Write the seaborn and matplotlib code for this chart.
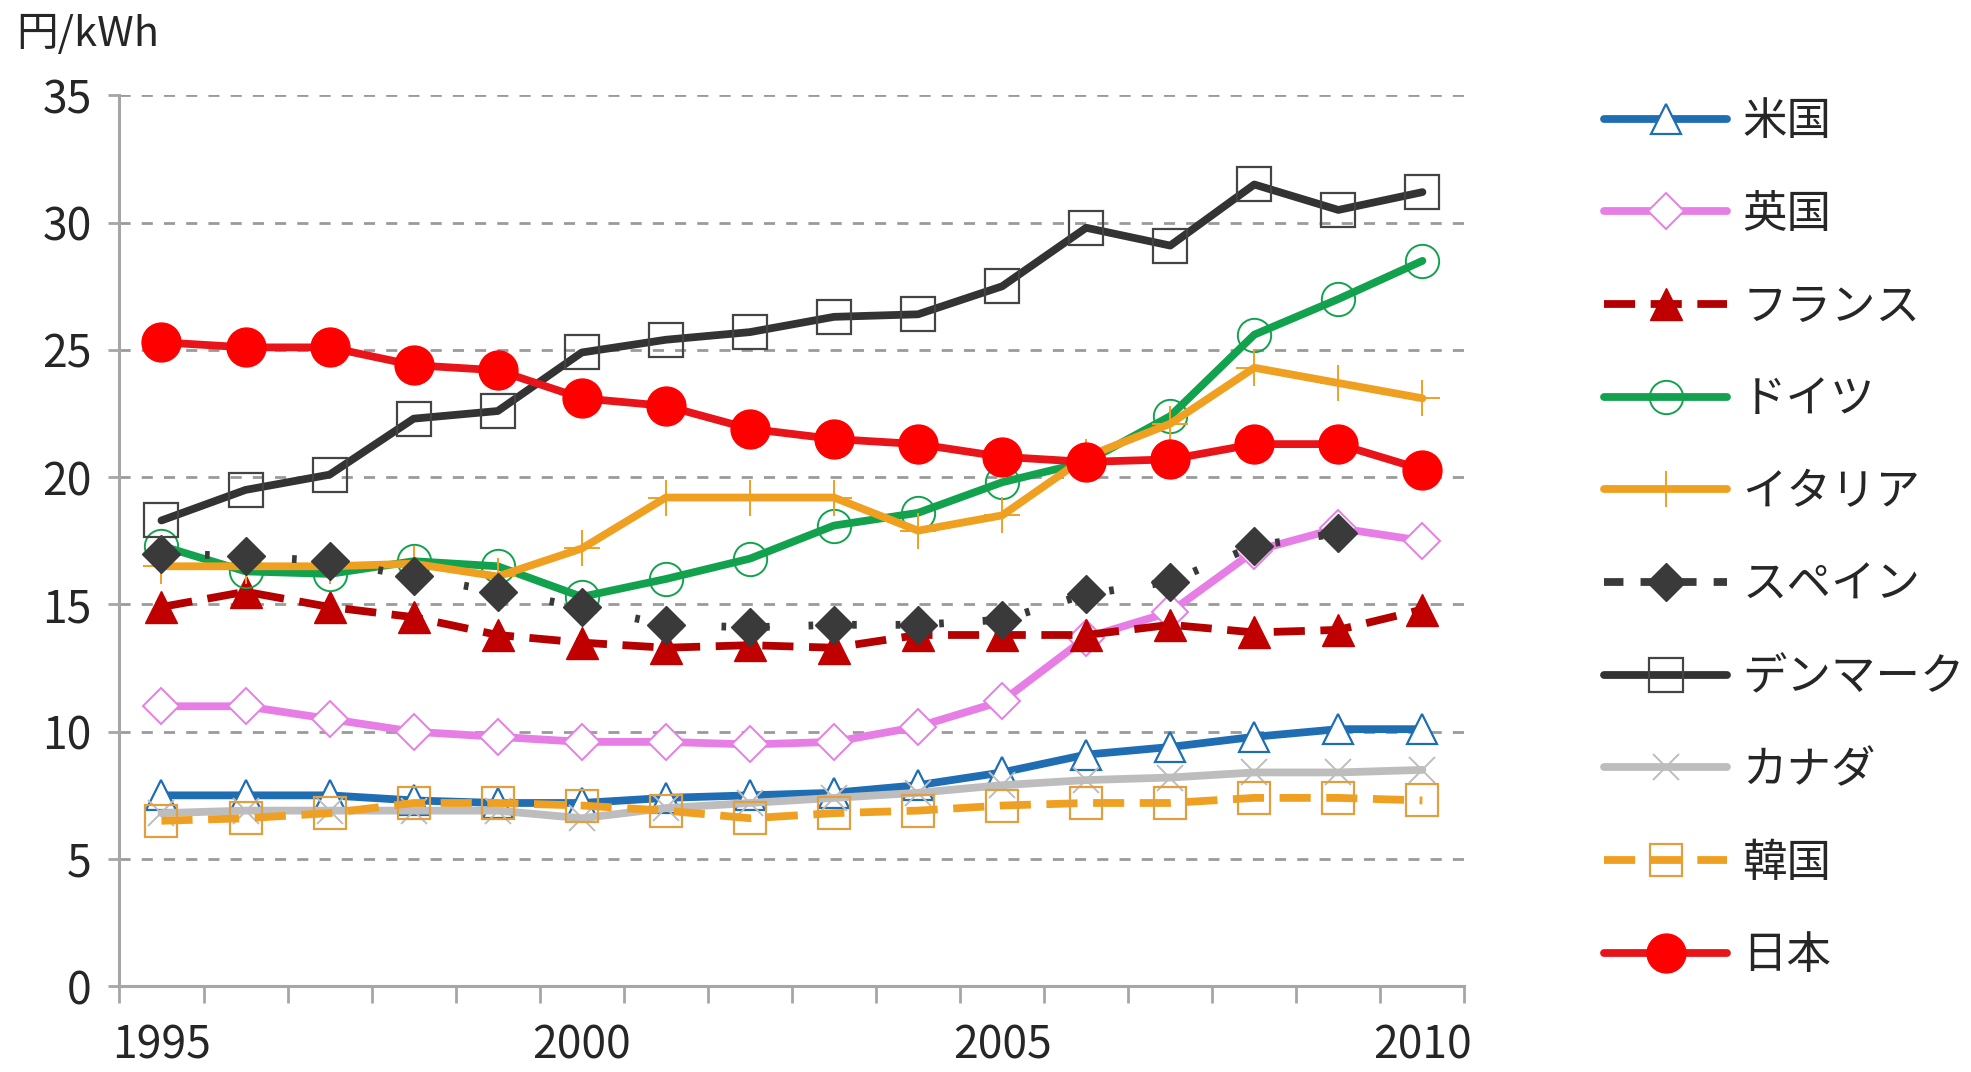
import numpy as np
import pandas as pd
import matplotlib
matplotlib.use("Agg")
import matplotlib.pyplot as plt
from matplotlib.ticker import FixedLocator, NullFormatter, FixedFormatter
from matplotlib.lines import Line2D
import seaborn as sns

years = list(range(1995, 2011))
series_names = ["米国", "英国", "フランス", "ドイツ", "イタリア", "スペイン", "デンマーク", "カナダ", "韓国", "日本"]

us      = [7.5, 7.5, 7.5, 7.3, 7.2, 7.2, 7.4, 7.5, 7.6, 7.9, 8.4, 9.1, 9.4, 9.8, 10.1, 10.1]
uk      = [11.0, 11.0, 10.5, 10.0, 9.8, 9.6, 9.6, 9.5, 9.6, 10.2, 11.2, 13.7, 14.7, 17.1, 18.0, 17.5]
france  = [14.9, 15.5, 14.9, 14.5, 13.8, 13.5, 13.3, 13.4, 13.3, 13.8, 13.8, 13.8, 14.2, 13.9, 14.0, 14.8]
germany = [17.3, 16.3, 16.2, 16.7, 16.5, 15.3, 16.0, 16.8, 18.1, 18.6, 19.8, 20.6, 22.4, 25.6, 27.0, 28.5]
italy   = [16.5, 16.5, 16.5, 16.6, 16.1, 17.2, 19.2, 19.2, 19.2, 17.9, 18.5, 20.8, 22.1, 24.3, 23.7, 23.1]
spain   = [17.0, 16.9, 16.7, 16.1, 15.5, 14.9, 14.2, 14.1, 14.2, 14.2, 14.4, 15.4, 15.9, 17.3, 17.8, np.nan]
denmark = [18.3, 19.5, 20.1, 22.3, 22.6, 24.9, 25.4, 25.7, 26.3, 26.4, 27.5, 29.8, 29.1, 31.5, 30.5, 31.2]
canada  = [6.8, 6.9, 6.9, 6.9, 6.9, 6.6, 7.0, 7.2, 7.4, 7.6, 7.9, 8.1, 8.2, 8.4, 8.4, 8.5]
korea   = [6.5, 6.6, 6.8, 7.2, 7.2, 7.1, 6.9, 6.6, 6.8, 6.9, 7.1, 7.2, 7.2, 7.4, 7.4, 7.3]
japan   = [25.3, 25.1, 25.1, 24.4, 24.2, 23.1, 22.8, 21.9, 21.5, 21.3, 20.8, 20.6, 20.7, 21.3, 21.3, 20.3]

values = [us, uk, france, germany, italy, spain, denmark, canada, korea, japan]

styles = [
    dict(color="#1f6db3", ls="-", marker="^", mfc="white", mec="#1f6db3", ms=21, mew=1.6),
    dict(color="#e67ee6", ls="-", marker="D", mfc="white", mec="#e67ee6", ms=18, mew=1.4),
    dict(color="#b40000", ls=(0, (4, 2)), marker="^", mfc="#c00000", mec="#c00000", ms=23, mew=1.0),
    dict(color="#12a24e", ls="-", marker="o", mfc="none", mec="#12a24e", ms=24, mew=1.4),
    dict(color="#efa021", ls="-", marker="+", mfc="none", mec="#efa021", ms=26, mew=1.4),
    dict(color="#3a3a3a", ls=(0, (0.6, 5)), marker="D", mfc="#3a3a3a", mec="#3a3a3a", ms=19, mew=1.0),
    dict(color="#333333", ls="-", marker="s", mfc="none", mec="#444444", ms=24, mew=1.6),
    dict(color="#bdbdbd", ls="-", marker="x", mfc="none", mec="#bdbdbd", ms=19, mew=1.4),
    dict(color="#f0a020", ls=(0, (4, 2)), marker="s", mfc="none", mec="#e0a040", ms=23, mew=1.6),
    dict(color="#e8141a", ls="-", marker="o", mfc="#ff0000", mec="#ff0000", ms=28, mew=1.0),
]

sns.set_theme(style="white")
plt.rcParams["font.family"] = ["Noto Sans CJK JP", "DejaVu Sans"]

fig = plt.figure(figsize=(19.71, 10.72), dpi=100)
ax = fig.add_axes([0.0606, 0.080, 0.743 - 0.0606, 0.911 - 0.080])

for i, (name, vals, st) in enumerate(zip(series_names, values, styles)):
    df = pd.DataFrame({"year": years, "v": vals})
    sns.lineplot(data=df, x="year", y="v", ax=ax, label=name,
                 color=st["color"], linestyle=st["ls"], linewidth=5.6,
                 marker=st["marker"], markersize=st["ms"],
                 markerfacecolor=st["mfc"], markeredgecolor=st["mec"],
                 markeredgewidth=st["mew"], zorder=3 + i, legend=False)

ax.set_xlim(1994.5, 2010.5)
ax.set_ylim(0, 35)
ax.set_xlabel("")
ax.set_ylabel("")

grey = "#a6a6a6"
for side in ["top", "right"]:
    ax.spines[side].set_visible(False)
for side in ["left", "bottom"]:
    ax.spines[side].set_color(grey)
    ax.spines[side].set_linewidth(2.2)

ax.set_yticks(np.arange(0, 36, 5))
ax.tick_params(axis="y", which="major", left=True, length=8, width=2.0, color=grey,
               labelsize=32, pad=12, direction="out")
ax.xaxis.set_major_locator(FixedLocator(np.arange(1994.5, 2011, 1.0)))
ax.xaxis.set_major_formatter(NullFormatter())
ax.xaxis.set_minor_locator(FixedLocator([1995, 2000, 2005, 2010]))
ax.xaxis.set_minor_formatter(FixedFormatter(["1995", "2000", "2005", "2010"]))
ax.tick_params(axis="x", which="major", bottom=True, length=12, width=2.0, color=grey, direction="out")
ax.tick_params(axis="x", which="minor", bottom=True, length=0, labelsize=32, pad=26)

ax.grid(False)
for v in range(5, 36, 5):
    ax.axhline(v, color="#9a9a9a", linewidth=2.0, linestyle=(0, (4, 4)), zorder=1)

fig.text(0.008, 0.968, "円/kWh", fontsize=30, ha="left", va="center")

handles, labels = ax.get_legend_handles_labels()
sp = styles[5]
handles[5] = Line2D([], [], color=sp["color"], linestyle=(0, (2.5, 2.2)), linewidth=5.6,
                    marker=sp["marker"], markersize=sp["ms"], markerfacecolor=sp["mfc"],
                    markeredgecolor=sp["mec"])
leg = fig.legend(handles, labels, loc="upper left", bbox_to_anchor=(0.805, 0.925),
                 frameon=False, fontsize=32, handlelength=2.75, handletextpad=0.35,
                 labelspacing=1.05, borderaxespad=0)

fig.savefig("out.png", dpi=100, facecolor="white")
